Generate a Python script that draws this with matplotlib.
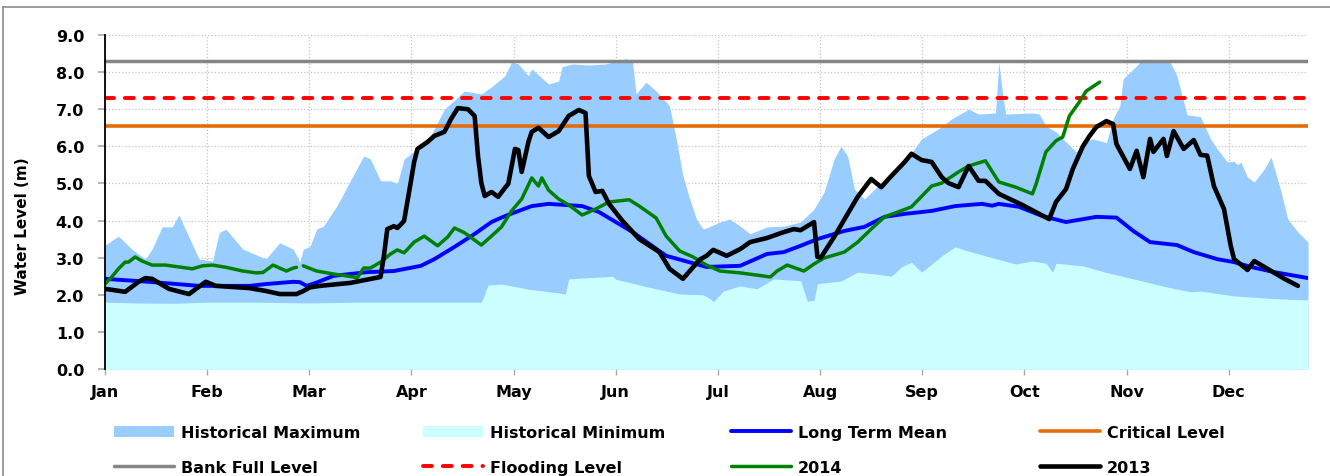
import numpy as np
import matplotlib
matplotlib.use("Agg")
import matplotlib.pyplot as plt
from matplotlib.patches import Patch
from matplotlib.lines import Line2D

# ---------------- data ----------------
months = ['Jan', 'Feb', 'Mar', 'Apr', 'May', 'Jun', 'Jul', 'Aug', 'Sep', 'Oct', 'Nov', 'Dec']
days_per_month = 30.4

max_day = [0, 4, 8, 12, 14, 17, 20, 22, 28, 32, 34, 36, 41, 47, 48, 52, 56, 58, 59, 61, 63, 65, 69, 73, 77, 79,
           82, 85, 87, 89, 91, 96, 101, 107, 112, 115, 119, 121, 123, 126, 127, 132, 135, 136, 139, 144, 149, 155,
           157, 158, 161, 164, 168, 170, 172, 174, 176, 178, 179, 183, 186, 189, 192, 197, 202, 207, 211, 214, 217,
           219, 221, 223, 226, 230, 234, 238, 243, 248, 252, 257, 260, 265, 266, 267, 268, 276, 278, 280, 283, 286,
           289, 292, 294, 298, 300, 302, 303, 307, 308, 317, 319, 321, 322, 326, 329, 331, 334, 336, 337, 338, 340,
           342, 345, 347, 350, 352, 355, 358]
max_lvl = [3.34, 3.58, 3.23, 2.96, 3.23, 3.83, 3.83, 4.15, 2.96, 2.91, 3.67, 3.77, 3.23, 3.00, 2.98, 3.40, 3.23,
           2.88, 3.23, 3.30, 3.77, 3.85, 4.39, 5.07, 5.74, 5.66, 5.07, 5.07, 5.00, 5.66, 5.80, 6.12, 7.00, 7.49,
           7.41, 7.60, 7.90, 8.27, 8.22, 7.90, 8.09, 7.68, 7.76, 8.14, 8.22, 8.19, 8.22, 8.36, 8.27, 7.41, 7.73,
           7.49, 7.09, 6.20, 5.20, 4.58, 4.04, 3.77, 3.80, 3.96, 4.04, 3.85, 3.64, 3.83, 3.85, 3.96, 4.31, 4.77,
           5.66, 6.00, 5.74, 4.85, 4.58, 4.93, 5.31, 5.58, 6.20, 6.47, 6.74, 7.00, 6.87, 6.90, 8.27, 7.50, 6.87,
           6.90, 6.87, 6.55, 6.39, 6.12, 5.85, 6.15, 6.20, 6.10, 6.74, 7.09, 7.82, 8.17, 8.27, 8.27, 7.90, 7.20,
           6.85, 6.80, 6.20, 5.93, 5.58, 5.60, 5.50, 5.58, 5.17, 5.04, 5.39, 5.71, 4.77, 4.04, 3.69, 3.42]

min_day = [0, 10, 20, 30, 45, 60, 75, 90, 105, 112, 114, 118, 126, 135, 137, 138, 148, 151, 152, 162,
           167, 171, 178, 180, 181, 184, 189, 194, 199, 203, 207, 209, 211, 212, 219, 224, 230, 234, 237, 240,
           243, 245, 249, 253, 256, 262, 271, 276, 280, 282, 283, 291, 298, 306, 316, 323, 326, 336, 347, 358]
min_lvl = [1.80, 1.78, 1.77, 1.80, 1.80, 1.78, 1.80, 1.80, 1.80, 1.80, 2.26, 2.29, 2.15, 2.05, 2.02, 2.43,
           2.48, 2.50, 2.42, 2.20, 2.10, 2.02, 2.00, 1.90, 1.81, 2.10, 2.24, 2.16, 2.43, 2.40, 2.38, 1.83, 1.85,
           2.30, 2.37, 2.61, 2.55, 2.50, 2.75, 2.88, 2.61, 2.75, 3.05, 3.29, 3.20, 3.05, 2.83, 2.91, 2.85, 2.61,
           2.85, 2.78, 2.60, 2.43, 2.21, 2.08, 2.10, 1.97, 1.90, 1.86]

mean_day = [0, 13, 28, 43, 48, 56, 58, 60, 63, 68, 78, 86, 94, 98, 104, 110, 115, 119, 127, 132,
            142, 147, 157, 167, 179, 189, 197, 202, 207, 212, 220, 226, 232, 238, 246, 253, 261, 264, 266, 272,
            279, 286, 295, 301, 306, 311, 319, 324, 331, 336, 341, 348, 358]
mean_lvl = [2.43, 2.35, 2.24, 2.24, 2.29, 2.35, 2.34, 2.24, 2.33, 2.51, 2.61, 2.64, 2.78, 2.96, 3.29, 3.64,
            3.96, 4.12, 4.39, 4.45, 4.39, 4.23, 3.69, 3.05, 2.75, 2.78, 3.10, 3.15, 3.32, 3.50, 3.72, 3.83, 4.10,
            4.18, 4.26, 4.39, 4.45, 4.40, 4.45, 4.37, 4.12, 3.96, 4.10, 4.08, 3.72, 3.42, 3.34, 3.15, 2.96, 2.88,
            2.75, 2.61, 2.45]

y2014_day = [0, 2, 4, 6, 7, 9, 11, 14, 18, 22, 26, 29, 32, 36, 41, 45, 47, 50, 54, 56, 57, 58, 59, 63, 68,
             74, 75, 77, 79, 82, 85, 87, 89, 92, 95, 99, 102, 104, 107, 112, 115, 118, 121, 124, 127, 129, 130,
             132, 135, 138, 142, 146, 150, 156, 159, 164, 167, 171, 175, 179, 183, 189, 194, 198, 200, 203, 208,
             211, 214, 220, 224, 228, 232, 238, 240, 246, 249, 254, 257, 262, 266, 271, 276, 277, 280, 283, 285,
             287, 290, 292, 296]
y2014_lvl = [2.29, 2.48, 2.70, 2.88, 2.88, 3.02, 2.91, 2.80, 2.80, 2.75, 2.70, 2.78, 2.80, 2.74, 2.64, 2.59,
             2.60, 2.80, 2.64, 2.72, 2.74, np.nan, 2.78, 2.64, 2.56, 2.48, 2.45, 2.72, 2.72, 2.88, 3.10, 3.21,
             3.13, 3.42, 3.58, 3.32, 3.56, 3.80, 3.67, 3.34, 3.58, 3.83, 4.26, 4.58, 5.15, 4.93, 5.15, 4.82, 4.58,
             4.42, 4.15, 4.31, 4.50, 4.56, 4.39, 4.07, 3.58, 3.18, 3.02, 2.80, 2.64, 2.59, 2.53, 2.48, 2.64, 2.80,
             2.64, 2.83, 2.99, 3.15, 3.42, 3.77, 4.10, 4.30, 4.37, 4.93, 5.01, 5.31, 5.47, 5.61, 5.04, 4.90, 4.72,
             4.96, 5.85, 6.15, 6.25, 6.82, 7.20, 7.49, 7.73]

y2013_day = [0, 6, 10, 12, 14, 19, 25, 30, 33, 38, 43, 48, 52, 57, 59, 61, 64, 73, 82, 83, 84, 86, 87, 89, 91,
             92, 93, 96, 98, 101, 103, 105, 108, 110, 111, 112, 113, 115, 117, 119, 120, 122, 123, 124, 126, 127,
             129, 132, 135, 138, 141, 143, 144, 146, 148, 150, 154, 159, 165, 168, 172, 177, 179, 181, 185, 189,
             192, 197, 202, 205, 207, 211, 212, 213, 217, 221, 224, 228, 231, 234, 238, 240, 243, 246, 249, 251,
             254, 257, 260, 262, 266, 273, 278, 281, 283, 286, 288, 291, 293, 295, 298, 300, 301, 305, 307, 309,
             311, 312, 315, 316, 318, 321, 324, 326, 328, 330, 333, 335, 336, 340, 342, 345, 351, 355]
y2013_lvl = [2.16, 2.08, 2.35, 2.45, 2.43, 2.16, 2.02, 2.35, 2.24, 2.21, 2.18, 2.10, 2.02, 2.02, 2.10, 2.20,
             2.24, 2.32, 2.48, 3.05, 3.77, 3.85, 3.80, 3.99, 5.04, 5.58, 5.93, 6.12, 6.28, 6.39, 6.74, 7.03, 7.00,
             6.82, 5.74, 5.01, 4.66, 4.77, 4.64, 4.88, 4.99, 5.93, 5.90, 5.31, 6.12, 6.39, 6.50, 6.25, 6.41, 6.82,
             6.98, 6.90, 5.20, 4.77, 4.80, 4.45, 3.99, 3.50, 3.15, 2.70, 2.43, 2.95, 3.05, 3.21, 3.05, 3.23, 3.42,
             3.53, 3.69, 3.77, 3.74, 3.96, 3.02, 3.00, 3.56, 4.18, 4.64, 5.12, 4.90, 5.20, 5.58, 5.80, 5.63, 5.58,
             5.17, 5.01, 4.90, 5.47, 5.07, 5.07, 4.72, 4.42, 4.18, 4.04, 4.50, 4.85, 5.39, 6.00, 6.28, 6.52, 6.68,
             6.60, 6.06, 5.39, 5.88, 5.17, 6.20, 5.85, 6.20, 5.74, 6.41, 5.93, 6.17, 5.77, 5.75, 4.93, 4.31, 3.32,
             2.96, 2.67, 2.91, 2.75, 2.43, 2.24]

critical_level = 6.55
flooding_level = 7.3
bank_full_level = 8.3

y_ticks = [0, 1, 2, 3, 4, 5, 6, 7, 8, 9]

# ---------------- figure ----------------
plt.rcParams['font.family'] = ['DejaVu Sans']
plt.rcParams['font.weight'] = 'bold'

W, H = 1330, 477
fig = plt.figure(figsize=(W / 100, H / 100), dpi=100)
ax = fig.add_axes([105 / W, 1 - 370 / H, (1308 - 105) / W, (370 - 36) / H])

c_max = '#99CCFF'
c_min = '#CCFFFF'

ax.fill_between(max_day, 0, max_lvl, color=c_max, lw=0, zorder=1)
ax.fill_between(min_day, 0, min_lvl, color=c_min, lw=0, zorder=2)

h_crit = ax.axhline(critical_level, color='#E46C0A', lw=2.6, zorder=3, solid_capstyle='round')
h_bank = ax.axhline(bank_full_level, color='#858585', lw=2.5, zorder=3, solid_capstyle='round')
h_flood = ax.axhline(flooding_level, color='#FF0000', lw=2.8, zorder=3, dashes=(2.3, 2.8),
                     dash_capstyle='round')
h_mean, = ax.plot(mean_day, mean_lvl, color='#0000FF', lw=2.8, zorder=4, solid_capstyle='round')
h_2014, = ax.plot(y2014_day, y2014_lvl, color='#008000', lw=2.5, zorder=5, solid_capstyle='round')
h_2013, = ax.plot(y2013_day, y2013_lvl, color='#000000', lw=3.3, zorder=6, solid_capstyle='round',
                  solid_joinstyle='round')

ax.set_xlim(0, 358)
ax.set_ylim(0, 9)
ax.set_xticks([i * days_per_month for i in range(len(months))])
ax.set_xticklabels(months)
ax.set_yticks(y_ticks)
ax.set_yticklabels([f'{v:.1f}' for v in y_ticks])

ax.set_axisbelow(True)
ax.grid(True, color='#c4c4c4', ls=':', lw=0.9, zorder=0)
for s in ['top', 'right', 'bottom']:
    ax.spines[s].set_visible(False)
ax.spines['left'].set_color('black')
ax.spines['left'].set_linewidth(1.3)
ax.spines['left'].set_zorder(7)

ax.tick_params(axis='y', direction='out', length=5, width=1.2, color='#a8a8a8', pad=10,
               labelsize=11.5)
ax.tick_params(axis='x', direction='out', length=4, width=1.0, color='#a8a8a8', pad=7,
               labelsize=11.5)
for t in ax.get_xticklabels() + ax.get_yticklabels():
    t.set_fontweight('bold')

ax.set_ylabel('Water Level (m)', fontsize=11, fontweight='bold')
ax.yaxis.set_label_coords(-0.062, 0.43)

# ---------------- legend (4 columns x 2 rows) ----------------
cols = [
    [(Patch(facecolor=c_max, edgecolor='none'), 'Historical Maximum'), (h_bank, 'Bank Full Level')],
    [(Patch(facecolor=c_min, edgecolor='none'), 'Historical Minimum'), (h_flood, 'Flooding Level')],
    [(h_mean, 'Long Term Mean'), (h_2014, '2014')],
    [(h_crit, 'Critical Level'), (h_2013, '2013')],
]
col_x = [114, 423, 731, 1040]
for cx, entries in zip(col_x, cols):
    fig.legend([e[0] for e in entries], [e[1] for e in entries],
               loc='center left', bbox_to_anchor=(cx / W, 1 - 451 / H),
               frameon=False, borderpad=0, borderaxespad=0, handlelength=3.75,
               handleheight=0.7, handletextpad=0.45, labelspacing=1.25,
               prop={'size': 11.5, 'weight': 'bold'})

# ---------------- outer border ----------------
fig.add_artist(Line2D([3 / W, 1.0], [1 - 8 / H, 1 - 8 / H], transform=fig.transFigure,
                      color='#8c8c8c', lw=1.2))
fig.add_artist(Line2D([3 / W, 3 / W], [0, 1 - 8 / H], transform=fig.transFigure,
                      color='#8c8c8c', lw=1.2))

fig.savefig('out.png', dpi=100)
